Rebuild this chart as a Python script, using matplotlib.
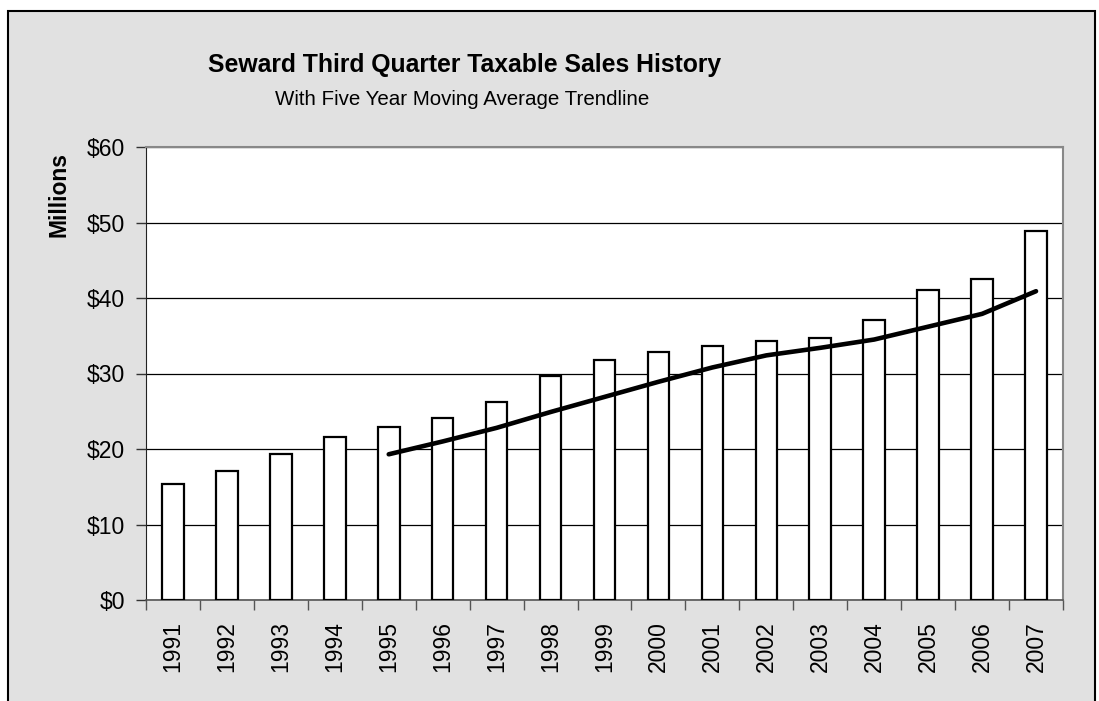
import numpy as np
import matplotlib.pyplot as plt
from matplotlib.patches import Rectangle

plt.rcParams['font.family'] = ['Liberation Sans', 'DejaVu Sans']

# данные (млн долларов)
years = [str(y) for y in range(1991, 2008)]
sales = [15.4, 17.1, 19.3, 21.6, 22.9, 24.1, 26.2, 29.7, 31.8, 32.8,
         33.6, 34.3, 34.7, 37.1, 41.1, 42.5, 48.9]
# пятилетняя скользящая средняя (с 1995 года)
trend_years = years[4:]
trend = [19.3, 21.0, 22.8, 24.9, 26.9, 28.9, 30.8, 32.4, 33.4, 34.5,
         36.2, 37.9, 40.9]
yticks = [0, 10, 20, 30, 40, 50, 60]

W, H = 1099, 701
fig = plt.figure(figsize=(W / 100, H / 100), dpi=100)
fig.set(facecolor='white')

# серая рамка диаграммы
fig.patches.append(Rectangle((8 / W, -0.05), (1095 - 8) / W, (H - 11) / H + 0.05,
                             transform=fig.transFigure, facecolor='#e1e1e1',
                             edgecolor='black', lw=1.5, zorder=-1))

ax = fig.add_axes([146 / W, (H - 600) / H, (1063 - 146) / W, (600 - 147) / H])
ax.set(facecolor='white')

x = np.arange(len(years))
ax.bar(x, sales, width=0.4, color='white', edgecolor='black', lw=1.6, zorder=3)
tx = np.arange(4, len(years))
ax.plot(tx, trend, color='black', lw=3.3, solid_capstyle='round', zorder=4)

ax.set_xlim(-0.5, len(years) - 0.5)
ax.set_ylim(0, 60)
ax.set_yticks(yticks)
ax.set_yticklabels(['$%d' % v for v in yticks], fontsize=16.5)
ax.tick_params(axis='y', direction='out', length=7, width=1, pad=8, color='#333333')

# метки годов по центру, засечки между категориями
ax.set_xticks(np.arange(-0.5, len(years), 1))
ax.set_xticklabels([])
ax.set_xticks(x, minor=True)
ax.set_xticklabels(years, minor=True, rotation=90, fontsize=16.5)
ax.tick_params(axis='x', which='major', direction='out', length=7, width=1, color='#555555')
ax.tick_params(axis='x', which='minor', length=0, pad=15)

ax.grid(axis='y', color='black', lw=0.9, zorder=1)
for s in ['top', 'right']:
    ax.spines[s].set_color('#888888')
    ax.spines[s].set_linewidth(1.5)
ax.spines['left'].set_color('#222222')
ax.spines['bottom'].set_color('#555555')
ax.spines['bottom'].set_linewidth(1.2)

fig.text(59 / W, 1 - 195 / H, 'Millions', rotation=90, ha='center', va='center',
         fontsize=16.5, fontweight='bold')
fig.text(465 / W, 1 - 72 / H, 'Seward Third Quarter Taxable Sales History',
         ha='center', va='baseline', fontsize=17.8, fontweight='bold')
fig.text(462 / W, 1 - 105 / H, 'With Five Year Moving Average Trendline',
         ha='center', va='baseline', fontsize=14.8)

fig.savefig('out.png', dpi=100)
